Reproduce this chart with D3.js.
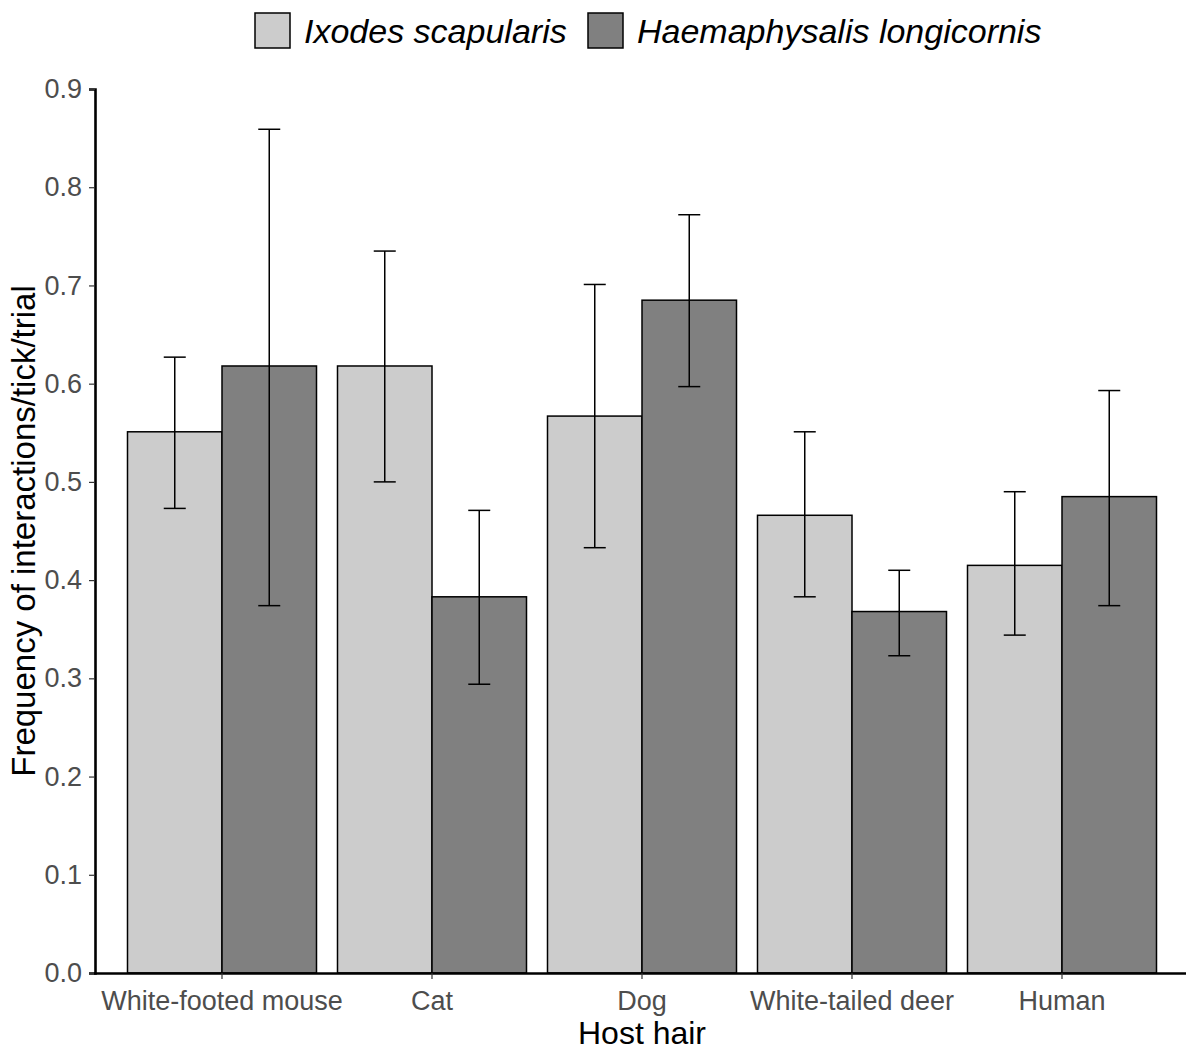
<!DOCTYPE html>
<html>
<head>
<meta charset="utf-8">
<script src="https://cdn.jsdelivr.net/npm/d3@7"></script>
<style>
body { margin: 0; background: #fff; }
text { font-family: "Liberation Sans", Arial, sans-serif; }
</style>
</head>
<body>
<script>
var width = 1186;
var height = 1052;

// data
var hosts = ["White-footed mouse", "Cat", "Dog", "White-tailed deer", "Human"];
var species = ["Ixodes scapularis", "Haemaphysalis longicornis"];
var ixodesMean = [0.551, 0.618, 0.567, 0.466, 0.415];
var ixodesLow  = [0.473, 0.500, 0.433, 0.383, 0.344];
var ixodesHigh = [0.627, 0.735, 0.701, 0.551, 0.490];
var haemaMean  = [0.618, 0.383, 0.685, 0.368, 0.485];
var haemaLow   = [0.374, 0.294, 0.597, 0.323, 0.374];
var haemaHigh  = [0.859, 0.471, 0.772, 0.410, 0.593];
var yTicks = [0, 0.1, 0.2, 0.3, 0.4, 0.5, 0.6, 0.7, 0.8, 0.9];
var fills = ["#cccccc", "#808080"];

var rows = [];
hosts.forEach(function(h, i){
	rows.push({host: h, sp: species[0], mean: ixodesMean[i], lo: ixodesLow[i], hi: ixodesHigh[i]});
	rows.push({host: h, sp: species[1], mean: haemaMean[i], lo: haemaLow[i], hi: haemaHigh[i]});
});

var margin = {left: 96, right: 1188, top: 89, bottom: 973};

var canvas = d3.select("body")
	.append("svg")
	.attr("width", width)
	.attr("height", height);

var x0 = d3.scaleBand()
	.domain(hosts)
	.range([margin.left, margin.right])
	.paddingInner(0.1)
	.paddingOuter(0.15);

var x1 = d3.scaleBand()
	.domain(species)
	.range([0, x0.bandwidth()]);

var y = d3.scaleLinear()
	.domain([0, 0.9])
	.range([margin.bottom, margin.top]);

var color = d3.scaleOrdinal().domain(species).range(fills);

// bars
canvas.append("g").selectAll("rect")
	.data(rows)
	.enter()
		.append("rect")
		.attr("x", function(d){ return x0(d.host) + x1(d.sp); })
		.attr("y", function(d){ return y(d.mean); })
		.attr("width", x1.bandwidth())
		.attr("height", function(d){ return y(0) - y(d.mean); })
		.attr("fill", function(d){ return color(d.sp); })
		.attr("stroke", "#000")
		.attr("stroke-width", 1.5);

// error bars
var capW = 22;
var eb = canvas.append("g").selectAll("g")
	.data(rows)
	.enter()
		.append("g")
		.attr("stroke", "#000")
		.attr("stroke-width", 1.5);
eb.append("line")
	.attr("x1", function(d){ return x0(d.host) + x1(d.sp) + x1.bandwidth()/2; })
	.attr("x2", function(d){ return x0(d.host) + x1(d.sp) + x1.bandwidth()/2; })
	.attr("y1", function(d){ return y(d.lo); })
	.attr("y2", function(d){ return y(d.hi); });
eb.selectAll("line.cap")
	.data(function(d){ return [{d: d, v: d.lo}, {d: d, v: d.hi}]; })
	.enter()
		.append("line")
		.classed("cap", true)
		.attr("x1", function(c){ return x0(c.d.host) + x1(c.d.sp) + x1.bandwidth()/2 - capW/2; })
		.attr("x2", function(c){ return x0(c.d.host) + x1(c.d.sp) + x1.bandwidth()/2 + capW/2; })
		.attr("y1", function(c){ return y(c.v); })
		.attr("y2", function(c){ return y(c.v); });

// axes
var yAxis = canvas.append("g")
	.attr("transform", "translate(" + (margin.left - 1) + ",0)")
	.call(d3.axisLeft(y).tickValues(yTicks).tickFormat(d3.format(".1f")).tickSizeOuter(0).tickSize(6).tickPadding(7));
var xAxis = canvas.append("g")
	.attr("transform", "translate(0," + margin.bottom + ")")
	.call(d3.axisBottom(x0).tickSizeOuter(0).tickSize(6).tickPadding(12));

[yAxis, xAxis].forEach(function(a){
	a.select(".domain").attr("stroke", "#000").attr("stroke-width", 2.6);
	a.selectAll(".tick line").attr("stroke", "#333").attr("stroke-width", 1.2);
	a.selectAll(".tick text")
		.attr("fill", "#4d4d4d")
		.style("font-size", "27px")
		.style("font-family", "'Liberation Sans', Arial, sans-serif");
});
xAxis.select(".domain").attr("d", "M" + (margin.left - 2) + ",0.5H" + margin.right);

// axis titles
canvas.append("text")
	.attr("x", (margin.left + margin.right) / 2)
	.attr("y", 1044)
	.attr("text-anchor", "middle")
	.style("font-size", "32px")
	.text("Host hair");
canvas.append("text")
	.attr("transform", "translate(35," + ((margin.top + margin.bottom) / 2) + ") rotate(-90)")
	.attr("text-anchor", "middle")
	.style("font-size", "33px")
	.text("Frequency of interactions/tick/trial");

// legend
var legendX = [255, 588];
var legend = canvas.append("g").selectAll("g")
	.data(species)
	.enter()
		.append("g")
		.attr("transform", function(d, i){ return "translate(" + legendX[i] + ",13)"; });
legend.append("rect")
	.attr("width", 35)
	.attr("height", 35)
	.attr("fill", function(d){ return color(d); })
	.attr("stroke", "#000")
	.attr("stroke-width", 1.5);
legend.append("text")
	.attr("x", 49)
	.attr("y", 30)
	.style("font-size", "34px")
	.style("font-style", "italic")
	.text(function(d){ return d; });
</script>
</body>
</html>
